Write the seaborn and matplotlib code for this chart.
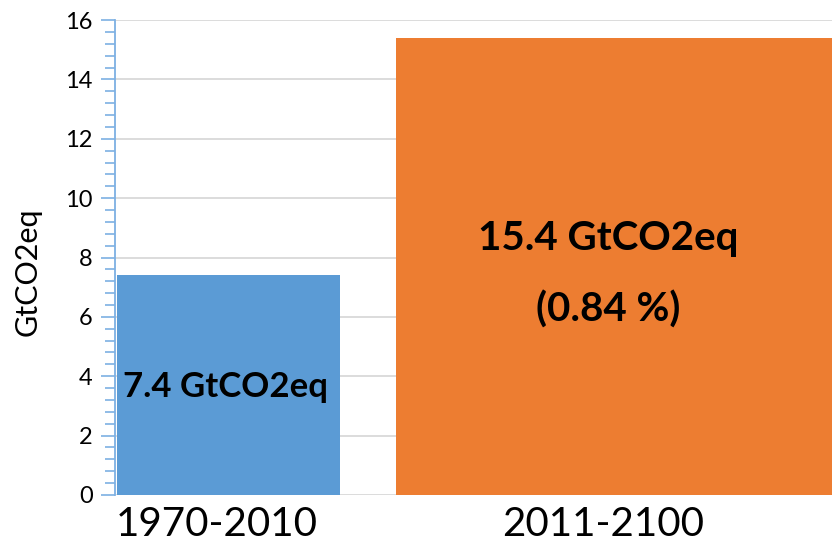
import numpy as np
import pandas as pa
import matplotlib
matplotlib.use('Agg')
import matplotlib.pyplot as plt
import seaborn as sns
from matplotlib.ticker import MultipleLocator

# donnees
periods = ['1970-2010', '2011-2100']
emissions = [7.4, 15.4]
bar_texts = ['7.4 GtCO2eq', '15.4 GtCO2eq']
share_text = '(0.84 %)'
colors = ['#5B9BD5', '#ED7D31']

sns.set_style('white')
plt.rcParams['font.family'] = ['Lato', 'DejaVu Sans']

df = pa.DataFrame({'period': periods, 'GtCO2eq': emissions})

fig = plt.figure(figsize=(8.32, 5.47), dpi=100)
ax = fig.add_axes([0.1382, 0.0951, 0.8618, 0.8683])

sns.barplot(data=df, x='period', y='GtCO2eq', hue='period', palette=colors,
            saturation=1, legend=False, ax=ax)

# largeurs des barres differentes (mise en page)
bar_left = [-0.494, 0.284]
bar_right = [0.128, 1.7]
for p, l, r in zip(ax.patches, bar_left, bar_right):
    p.set_x(l)
    p.set_width(r - l)
    p.set_linewidth(0)

ax.set_xlim(-0.5, 1.5)
ax.set_ylim(0, 16)
ax.set_xticks([-0.215, 0.862], periods)
ax.yaxis.set_major_locator(MultipleLocator(2))
ax.yaxis.set_minor_locator(MultipleLocator(0.4))

axis_blue = '#7DB0E3'
ax.tick_params(axis='y', which='both', left=True, direction='out')
ax.tick_params(axis='y', which='major', length=10, width=1.2, color=axis_blue,
               labelsize=17, labelcolor='black', pad=6)
ax.tick_params(axis='y', which='minor', length=7, width=1.2, color=axis_blue)
ax.tick_params(axis='x', length=0, labelsize=29, labelcolor='black', pad=8)

ax.yaxis.grid(True, which='major', color='#D9D9D9', lw=1.3)
ax.set_axisbelow(True)
for s in ['top', 'right', 'bottom']:
    ax.spines[s].set_visible(False)
ax.spines['left'].set_color(axis_blue)
ax.spines['left'].set_linewidth(1.3)

ax.set_xlabel('')
ax.set_ylabel('GtCO2eq', fontsize=22, color='black')
ax.yaxis.set_label_coords(-0.103, 0.47)

# textes dans les barres
ax.text(-0.193, 3.30, bar_texts[0], ha='center', va='baseline',
        fontsize=25, fontweight='bold', color='black')
ax.text(0.875, 8.25, bar_texts[1], ha='center', va='baseline',
        fontsize=29, fontweight='bold', color='black')
ax.text(0.875, 5.83, share_text, ha='center', va='baseline',
        fontsize=29, fontweight='bold', color='black')

plt.savefig('out.png', dpi=100)
